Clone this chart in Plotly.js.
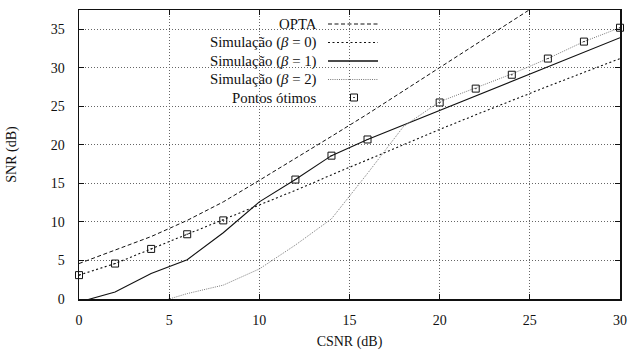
<!DOCTYPE html>
<html>
<head>
<meta charset="utf-8">
<script src="https://cdn.plot.ly/plotly-3.0.1.min.js"></script>
<style>html,body{margin:0;padding:0;background:#fff;}#chart{width:630px;height:352px;}</style>
</head>
<body>
<div id="chart"></div>
<script>
// ---- data ----
var csnr  = [0, 2, 4, 6, 8, 10, 12, 14, 16, 18, 20, 22, 24, 26, 28, 30];
var opta  = [4.6, 6.3, 8.1, 10.2, 12.6, 15.4, 18.2, 21.1, 24.0, 27.0, 30.1, 33.0, 36.1, 39.1, 42.1, 45.1];
var beta0 = [3.1, 4.6, 6.5, 8.4, 10.2, 12.1, 14.1, 16.1, 18.1, 20.0, 22.0, 23.9, 25.8, 27.6, 29.4, 31.2];
var beta1 = [-0.4, 0.9, 3.3, 5.1, 8.6, 12.6, 15.5, 18.6, 20.7, 22.6, 24.5, 26.4, 28.3, 30.2, 32.0, 33.9];
var beta2 = [null, null, -0.7, 0.7, 1.8, 3.9, 7.0, 10.4, 16.3, 22.4, 25.6, 27.4, 29.2, 31.2, 33.4, 35.2];
var optX  = [0, 2, 4, 6, 8, 12, 14, 16, 20, 22, 24, 26, 28, 30];
var optY  = [3.1, 4.6, 6.5, 8.4, 10.2, 15.5, 18.6, 20.7, 25.5, 27.3, 29.1, 31.2, 33.4, 35.2];
var xTicks = [0, 5, 10, 15, 20, 25, 30];
var yTicks = [0, 5, 10, 15, 20, 25, 30, 35];
var legendNames = ['OPTA', 'Simulação (<i>β</i> = 0)', 'Simulação (<i>β</i> = 1)', 'Simulação (<i>β</i> = 2)', 'Pontos ótimos'];

// ---- styles ----
var FONT = "'Liberation Serif', 'Times New Roman', serif";
var FS = 14;
var styles = [
  {color: '#111', width: 1, dash: '4px,2.5px'},
  {color: '#111', width: 1.1, dash: '2px,2.5px'},
  {color: '#111', width: 1.1, dash: 'solid'},
  {color: '#777', width: 1, dash: '1px,1.2px'}
];

var traces = [
  {x: csnr, y: opta,  mode: 'lines', line: styles[0], name: legendNames[0]},
  {x: csnr, y: beta0, mode: 'lines', line: styles[1], name: legendNames[1]},
  {x: csnr, y: beta1, mode: 'lines', line: styles[2], name: legendNames[2]},
  {x: csnr, y: beta2, mode: 'lines', line: styles[3], name: legendNames[3], connectgaps: false},
  {x: optX, y: optY, mode: 'markers', name: legendNames[4], cliponaxis: false,
   marker: {symbol: 'square-open-dot', size: 7, color: '#111', line: {width: 1, color: '#111'}}}
];

// plot area in pixels
var L = 79, R = 10, T = 10, B = 53, W = 630, H = 352;
var pw = W - L - R, ph = H - T - B;
function px(x) { return (x - L) / pw; }
function py(y) { return (H - B - y) / ph; }

var shapes = [
  // opaque key box
  {type: 'rect', xref: 'paper', yref: 'paper', x0: 0, x1: px(390), y0: py(103), y1: 1,
   fillcolor: '#fff', line: {width: 0}, layer: 'between'}
];
var annotations = [];
var rowsY = [24, 42.5, 61, 79.5, 97.5];
for (var i = 0; i < 5; i++) {
  annotations.push({xref: 'paper', yref: 'paper', x: px(319), y: py(rowsY[i]), xanchor: 'right', yanchor: 'middle',
    text: legendNames[i], showarrow: false, font: {family: FONT, size: 14.8, color: '#111'}});
  if (i < 4) {
    shapes.push({type: 'line', xref: 'paper', yref: 'paper', x0: px(328), x1: px(378), y0: py(rowsY[i]), y1: py(rowsY[i]),
      line: {color: styles[i].color, width: (i === 2 ? 1.6 : styles[i].width), dash: styles[i].dash}});
  }
}

var layout = {
  width: W, height: H,
  margin: {l: L, r: R, t: T, b: B},
  paper_bgcolor: '#fff', plot_bgcolor: '#fff',
  showlegend: false,
  font: {family: FONT, size: FS, color: '#111'},
  xaxis: {
    range: [0, 30], tickvals: xTicks, ticks: 'inside', ticklen: 5, tickcolor: '#111',
    showline: true, linecolor: '#111', linewidth: 1.5, mirror: 'ticks',
    showgrid: true, gridcolor: '#666', griddash: '1px,2px', gridwidth: 1, zeroline: false,
    ticklabelstandoff: 8,
    tickfont: {family: FONT, size: FS, color: '#111'},
    title: {text: 'CSNR (dB)', font: {family: FONT, size: FS, color: '#111'}, standoff: 9}
  },
  yaxis: {
    range: [0, 37.5], tickvals: yTicks, ticks: 'inside', ticklen: 5, tickcolor: '#111',
    showline: true, linecolor: '#111', linewidth: 1.5, mirror: 'ticks',
    showgrid: true, gridcolor: '#666', griddash: '1px,2px', gridwidth: 1, zeroline: false,
    ticklabelstandoff: 10,
    tickfont: {family: FONT, size: FS, color: '#111'},
    title: {text: 'SNR (dB)', font: {family: FONT, size: FS, color: '#111'}, standoff: 31}
  },
  shapes: shapes,
  annotations: annotations
};

// legend marker sample
traces.push({x: [px(354)], y: [py(rowsY[4])], xaxis: 'x2', yaxis: 'y2', mode: 'markers', hoverinfo: 'skip',
  marker: {symbol: 'square-open-dot', size: 7, color: '#111', line: {width: 1, color: '#111'}}});
layout.xaxis2 = {domain: [0, 1], range: [0, 1], overlaying: 'x', visible: false, fixedrange: true};
layout.yaxis2 = {domain: [0, 1], range: [0, 1], overlaying: 'y', visible: false, fixedrange: true};

Plotly.newPlot('chart', traces, layout, {staticPlot: true});
</script>
</body>
</html>
